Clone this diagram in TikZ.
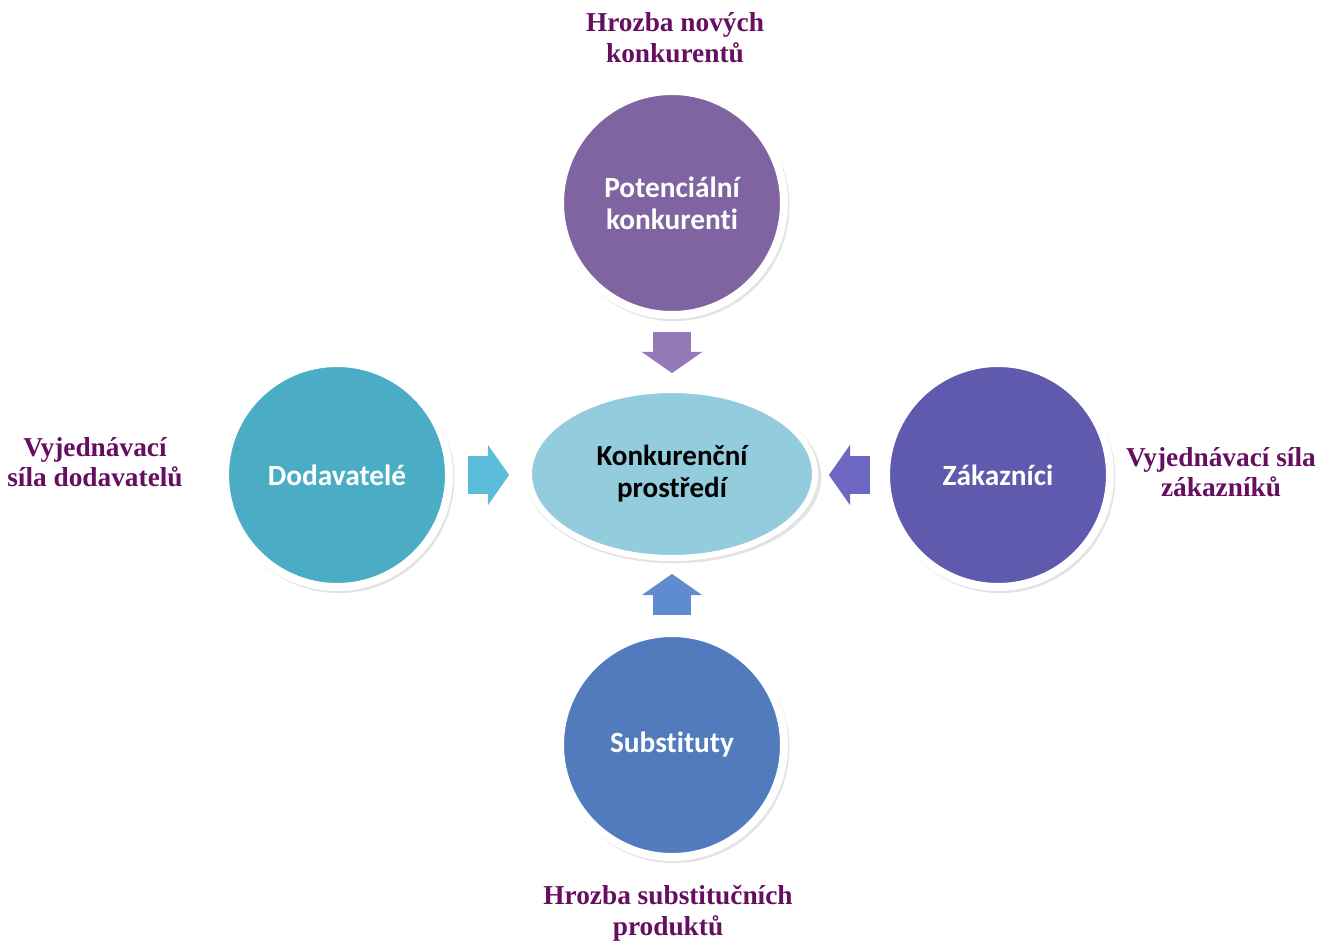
\documentclass[tikz,border=0pt]{standalone}
\usepackage{fontspec}
\setmainfont{Liberation Serif}
\setsansfont{Carlito}[Ligatures=NoCommon]
\usetikzlibrary{positioning,shapes.geometric,shapes.arrows,shadows}
\definecolor{forcepurple}{HTML}{8064A2}
\definecolor{forceaqua}{HTML}{4BACC6}
\definecolor{forceindigo}{HTML}{5F5AAD}
\definecolor{forceblue}{HTML}{527BBD}
\definecolor{corecyan}{HTML}{93CDDD}
\definecolor{labelplum}{HTML}{660E60}
\definecolor{arrpurple}{HTML}{9479B8}
\definecolor{arraqua}{HTML}{5BBDDA}
\definecolor{arrindigo}{HTML}{6E67C1}
\definecolor{arrblue}{HTML}{5F8CD0}
\tikzset{
    force/.style={circle,draw=white,line width=6pt,minimum size=168pt,inner sep=0pt,
        align=center,text=white,font=\sffamily\bfseries\fontsize{22}{24}\selectfont,
        drop shadow={shadow xshift=1.5pt,shadow yshift=-2pt,opacity=.22,shadow scale=1.03}},
    core/.style={ellipse,draw=white,line width=4.5pt,fill=corecyan,minimum width=214.5pt,
        minimum height=126pt,inner sep=0pt,align=center,
        font=\sffamily\bfseries\fontsize{21.8}{24}\selectfont,
        drop shadow={shadow xshift=1.5pt,shadow yshift=-2pt,opacity=.22,shadow scale=1.03}},
    push/.style={single arrow,draw=none,minimum height=30.75pt,minimum width=45pt,
        single arrow head extend=8.6pt,single arrow tip angle=110,
        inner xsep=0pt,inner ysep=13.875pt},
    pushv/.style={push,inner xsep=13.875pt,inner ysep=0pt},
    threat/.style={align=center,text=labelplum,font=\rmfamily\bfseries\fontsize{20.5}{23}\selectfont},
}
\begin{document}
\begin{tikzpicture}[x=0.75pt,y=-0.75pt]
    \useasboundingbox (0,0) rectangle (1319,945);

    \node[core] (env) at (672,474) {Konkurenční\\prostředí};
    \node[force,fill=forcepurple] (rivals) at (672,203) {Potenciální\\konkurenti};
    \node[force,fill=forceaqua] (supp) at (337,475) {Dodavatelé};
    \node[force,fill=forceindigo] (cust) at (998,475) {Zákazníci};
    \node[force,fill=forceblue] (subst) at (672,745) {Substituty};

    % block arrows towards the centre
    \node[pushv,fill=arrpurple,shape border rotate=270] (arrtop) at (672,346) {};
    \node[push,fill=arraqua,shape border rotate=0] (arrleft) at (482,475) {};
    \node[push,fill=arrindigo,shape border rotate=180] (arrright) at (856,475) {};
    \node[pushv,fill=arrblue,shape border rotate=90] (arrbottom) at (672,601) {};

    \node[threat] (newthreat) at (675,38) {Hrozba nových\\konkurentů};
    \node[threat] (supppower) at (95,462) {Vyjednávací\\síla dodavatelů};
    \node[threat] (custpower) at (1221,472) {Vyjednávací síla\\zákazníků};
    \node[threat] (substhreat) at (668,913) {Hrozba substitučních\\produktů};
\end{tikzpicture}
\end{document}
